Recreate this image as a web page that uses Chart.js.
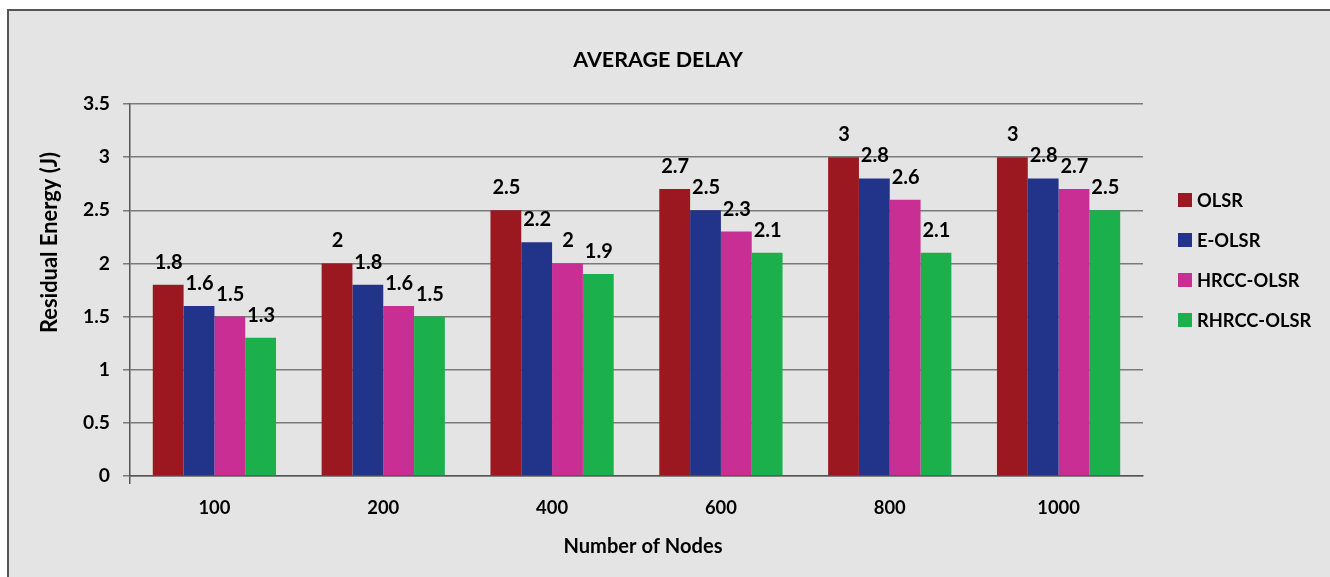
<!DOCTYPE html>
<html>
<head>
<meta charset="utf-8">
<script src="https://cdn.jsdelivr.net/npm/chart.js@4.4.0/dist/chart.umd.min.js"></script>
<style>
  html, body { margin: 0; padding: 0; background: #ffffff; }
  #wrap { position: absolute; left: 0; top: 0; width: 1330px; height: 577px; }
</style>
</head>
<body>
<div id="wrap"><canvas id="c" width="1330" height="577"></canvas></div>
<script>
const categories = ['100', '200', '400', '600', '800', '1000'];
const olsr = [1.8, 2.0, 2.5, 2.7, 3.0, 3.0];
const eOlsr = [1.6, 1.8, 2.2, 2.5, 2.8, 2.8];
const hrccOlsr = [1.5, 1.6, 2.0, 2.3, 2.6, 2.7];
const rhrccOlsr = [1.3, 1.5, 1.9, 2.1, 2.1, 2.5];
const seriesNames = ['OLSR', 'E-OLSR', 'HRCC-OLSR', 'RHRCC-OLSR'];
const seriesColors = ['#9c1820', '#223489', '#c82e93', '#1cb04c'];
const yTicks = [0, 0.5, 1, 1.5, 2, 2.5, 3, 3.5];
const chartTitle = 'AVERAGE DELAY';
const xTitle = 'Number of Nodes';
const yTitle = 'Residual Energy (J)';

const FONT = 'Lato, "Open Sans", "DejaVu Sans", sans-serif';

// choose a font size so that a sample text reaches a measured width
const measureCtx = document.createElement('canvas').getContext('2d');
function fitSize(text, targetWidth) {
  measureCtx.font = 'bold 100px ' + FONT;
  const w = measureCtx.measureText(text).width;
  return Math.round(100 * targetWidth / w * 10) / 10;
}
const titleSize = fitSize(chartTitle, 170);
const xTitleSize = fitSize(xTitle, 159);
const yTitleSize = fitSize(yTitle, 181);
const legendSize = fitSize('OLSR', 46);
const yTickSize = fitSize('3.5', 27);
const xTickSize = fitSize('100', 32);
const valueSize = fitSize('1.8', 28);

const framePlugin = {
  id: 'frame',
  beforeDraw(chart) {
    const ctx = chart.ctx;
    ctx.save();
    ctx.fillStyle = '#ffffff';
    ctx.fillRect(0, 0, chart.width, chart.height);
    ctx.fillStyle = '#e4e4e4';
    ctx.fillRect(7, 9, chart.width - 7, chart.height - 9);
    ctx.strokeStyle = '#555555';
    ctx.lineWidth = 2;
    ctx.beginPath();
    ctx.moveTo(8, chart.height);
    ctx.lineTo(8, 10);
    ctx.lineTo(chart.width, 10);
    ctx.stroke();
    ctx.restore();
  }
};

const textPlugin = {
  id: 'texts',
  afterDatasetsDraw(chart) {
    const ctx = chart.ctx;
    ctx.save();
    ctx.fillStyle = '#000000';
    // value labels
    ctx.font = 'bold ' + valueSize + 'px ' + FONT;
    ctx.textAlign = 'center';
    ctx.textBaseline = 'alphabetic';
    chart.data.datasets.forEach((ds, di) => {
      const meta = chart.getDatasetMeta(di);
      meta.data.forEach((bar, i) => {
        ctx.fillText(String(ds.data[i]), bar.x + 0.5, bar.y - 16);
      });
    });
    // title
    ctx.font = 'bold ' + titleSize + 'px ' + FONT;
    ctx.textBaseline = 'middle';
    ctx.fillText(chartTitle, 658, 60);
    // x title
    ctx.font = 'bold ' + xTitleSize + 'px ' + FONT;
    ctx.fillText(xTitle, 643, 547);
    // y title
    ctx.save();
    ctx.translate(50, 242.5);
    ctx.rotate(-Math.PI / 2);
    ctx.font = 'bold ' + yTitleSize + 'px ' + FONT;
    ctx.fillText(yTitle, 0, 0);
    ctx.restore();
    // legend
    ctx.textAlign = 'left';
    ctx.font = 'bold ' + legendSize + 'px ' + FONT;
    chart.data.datasets.forEach((ds, di) => {
      const cy = 200 + di * 40;
      ctx.fillStyle = ds.backgroundColor;
      ctx.fillRect(1178, cy - 7, 14, 14);
      ctx.fillStyle = '#000000';
      ctx.fillText(ds.label, 1197, cy + 1);
    });
    ctx.restore();
  }
};

const datasets = [olsr, eOlsr, hrccOlsr, rhrccOlsr].map((d, i) => ({
  label: seriesNames[i],
  data: d,
  backgroundColor: seriesColors[i],
  borderWidth: 0,
  categoryPercentage: 0.73,
  barPercentage: 1.0
}));

new Chart(document.getElementById('c'), {
  type: 'bar',
  data: { labels: categories, datasets },
  options: {
    responsive: false,
    animation: false,
    devicePixelRatio: 1,
    layout: { padding: { top: 104, right: 187, bottom: 0, left: 0 } },
    plugins: {
      legend: { display: false },
      title: { display: false },
      tooltip: { enabled: false }
    },
    scales: {
      x: {
        afterFit(axis) { axis.height = 101; },
        grid: {
          display: true,
          drawOnChartArea: false,
          offset: true,
          tickLength: 8,
          color: (c) => (c.index === 0 ? '#555555' : 'rgba(0,0,0,0)'),
          lineWidth: 1.5
        },
        border: { display: true, color: '#555555', width: 1.5 },
        ticks: {
          color: '#000000',
          font: { family: FONT, size: xTickSize, weight: 'bold' },
          padding: 13
        }
      },
      y: {
        min: 0,
        max: 3.5,
        afterFit(axis) { axis.width = 130; },
        afterBuildTicks(axis) { axis.ticks = yTicks.map(v => ({ value: v })); },
        grid: {
          color: '#7a7a7a',
          lineWidth: 1.5,
          tickLength: 7,
          drawTicks: true
        },
        border: { display: true, color: '#555555', width: 1.5 },
        ticks: {
          color: '#000000',
          font: { family: FONT, size: yTickSize, weight: 'bold' },
          padding: 13,
          callback: (v) => String(v)
        }
      }
    }
  },
  plugins: [framePlugin, textPlugin]
});
</script>
</body>
</html>
